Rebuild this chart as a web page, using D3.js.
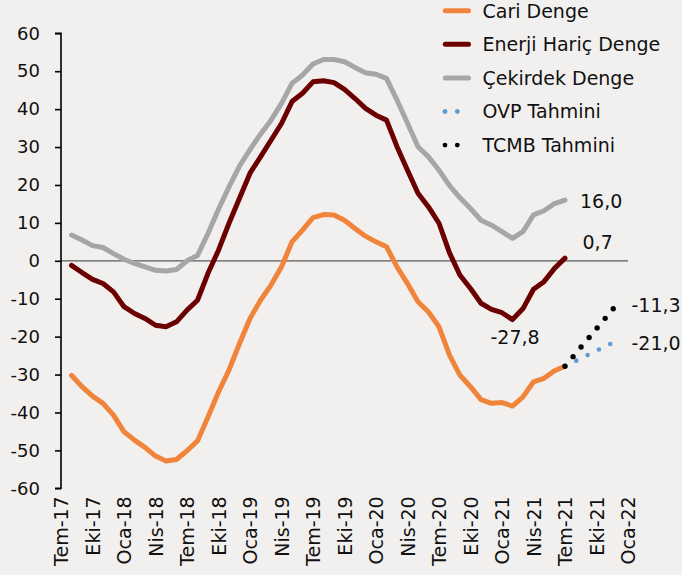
<!DOCTYPE html>
<html>
<head>
<meta charset="utf-8">
<script src="https://cdn.jsdelivr.net/npm/d3@7"></script>
<style>
  html, body { margin: 0; padding: 0; background: #f2f0ee; }
  svg { display: block; }
</style>
</head>
<body>
<svg id="chart" width="682" height="575"></svg>
<script>
// ---- Data ----
// month index 0 = Tem-17 (July 2017); series start at Ağu-17 (index 1)
const tickLabels = ["Tem-17","Eki-17","Oca-18","Nis-18","Tem-18","Eki-18","Oca-19","Nis-19","Tem-19","Eki-19","Oca-20","Nis-20","Tem-20","Eki-20","Oca-21","Nis-21","Tem-21","Eki-21","Oca-22"];
const yTicks = [60,50,40,30,20,10,0,-10,-20,-30,-40,-50,-60];
const firstMonth = 1;
const cariDenge = [-30.2,-33.2,-35.7,-37.6,-40.7,-45.1,-47.3,-49.2,-51.5,-52.8,-52.4,-50.1,-47.5,-41.2,-34.6,-28.8,-21.8,-15.2,-10.4,-6.4,-1.6,5.0,8.1,11.4,12.2,12.1,10.7,8.5,6.5,5.0,3.7,-1.6,-6.0,-10.8,-13.5,-17.4,-24.9,-30.2,-33.2,-36.6,-37.6,-37.4,-38.3,-35.9,-31.9,-31.0,-29.0,-27.8];
const enerjiHaric = [-1.2,-3.1,-4.9,-6.0,-8.2,-12.1,-13.9,-15.2,-17.0,-17.4,-16.1,-13.0,-10.4,-3.3,2.8,9.9,16.5,23.1,27.4,31.8,36.2,42.0,44.2,47.2,47.5,47.0,45.2,42.8,40.2,38.4,37.1,30.1,23.9,17.8,14.2,9.9,2.1,-3.8,-7.3,-11.2,-12.8,-13.7,-15.5,-12.6,-7.5,-5.5,-2.0,0.7];
const cekirdek = [6.8,5.5,4.0,3.5,1.9,0.4,-0.7,-1.6,-2.5,-2.7,-2.3,0.0,1.4,7.2,13.6,19.5,25.0,29.3,33.4,37.1,41.5,46.8,49.0,51.9,53.1,53.1,52.5,51.0,49.6,49.2,48.1,42.4,36.3,30.1,27.4,23.9,19.8,16.6,13.8,10.7,9.4,7.7,5.9,7.7,12.1,13.2,15.1,16.0];
const forecastMonths = [48, 53];
const ovpTahmini = [-27.8, -21.0];
const tcmbTahmini = [-27.8, -11.3];
const legendNames = ["Cari Denge","Enerji Hariç Denge","Çekirdek Denge","OVP Tahmini","TCMB Tahmini"];
const endLabels = [
  {text:"16,0", series:"cekirdek"},
  {text:"0,7", series:"enerji"},
  {text:"-27,8", series:"cari"},
  {text:"-11,3", series:"tcmb"},
  {text:"-21,0", series:"ovp"}
];

// ---- Styles ----
const colors = {cari:"#f0843a", enerji:"#6b0000", cekirdek:"#a6a6a6", ovp:"#5b9bd5", tcmb:"#000000"};
const font = "DejaVu Sans";

const svg = d3.select("#chart");
const x = d3.scaleLinear().domain([0, 54]).range([61, 628]);
const y = d3.scaleLinear().domain([-60, 60]).range([488.3, 33.3]);

// zero line
svg.append("line")
  .attr("x1", x(0)).attr("x2", x(54))
  .attr("y1", y(0)).attr("y2", y(0))
  .attr("stroke", "#5a5a5a").attr("stroke-width", 1.3);

// y axis
const yAxis = d3.axisLeft(y).tickValues(yTicks).tickSize(6).tickPadding(15).tickFormat(d => d);
const gy = svg.append("g").attr("transform", `translate(${x(0)},0)`).call(yAxis);
gy.select(".domain").attr("stroke", "#000").attr("stroke-width", 1.6).attr("d", `M-6,${y(60)}H0V${y(-60)}H-6`);
gy.selectAll(".tick line").attr("stroke", "#000").attr("stroke-width", 1.6);
gy.selectAll(".tick text").attr("font-family", font).attr("font-size", 18).attr("fill", "#111");

// x axis labels
const xAxis = d3.axisBottom(x).tickValues(d3.range(0, 55, 3)).tickSize(0).tickPadding(0)
  .tickFormat((d, i) => tickLabels[i]);
const gx = svg.append("g").attr("transform", `translate(0,${y(-60)})`).call(xAxis);
gx.select(".domain").remove();
gx.selectAll(".tick text")
  .attr("font-family", font).attr("font-size", 19).attr("fill", "#111")
  .attr("text-anchor", "end")
  .attr("transform", "translate(0,8) rotate(-90)")
  .attr("x", 0).attr("y", 0).attr("dy", "0.36em");

// lines
const line = d3.line().x(d => x(d[0])).y(d => y(d[1]));
function seriesPts(arr) { return arr.map((v, i) => [firstMonth + i, v]); }
[["cari", cariDenge], ["enerji", enerjiHaric], ["cekirdek", cekirdek]].forEach(([k, arr]) => {
  svg.append("path").datum(seriesPts(arr))
    .attr("d", line).attr("fill", "none")
    .attr("stroke", colors[k]).attr("stroke-width", 5)
    .attr("stroke-linejoin", "round").attr("stroke-linecap", "round");
});
svg.append("path").datum(forecastMonths.map((m, i) => [m, ovpTahmini[i]]))
  .attr("d", line).attr("fill", "none").attr("stroke", colors.ovp)
  .attr("stroke-width", 4.6).attr("stroke-linecap", "round").attr("stroke-dasharray", "0 12.6");
svg.append("path").datum(forecastMonths.map((m, i) => [m, tcmbTahmini[i]]))
  .attr("d", line).attr("fill", "none").attr("stroke", colors.tcmb)
  .attr("stroke-width", 5.4).attr("stroke-linecap", "round").attr("stroke-dasharray", "0 12.5");

// end labels
const labelPos = {
  cekirdek: {x: 580, y: 207.5},
  enerji: {x: 582.5, y: 249},
  cari: {x: 490.5, y: 344},
  tcmb: {x: 631.5, y: 311.5},
  ovp: {x: 631.5, y: 349.5}
};
endLabels.forEach(l => {
  svg.append("text").attr("x", labelPos[l.series].x).attr("y", labelPos[l.series].y)
    .attr("font-family", font).attr("font-size", 19).attr("fill", "#111").text(l.text);
});

// legend
const legendKeys = ["cari", "enerji", "cekirdek", "ovp", "tcmb"];
const lg = svg.append("g");
legendKeys.forEach((k, i) => {
  const cy = 10.7 + i * 33.6;
  if (i < 3) {
    lg.append("line").attr("x1", 445.3).attr("x2", 468.5).attr("y1", cy).attr("y2", cy)
      .attr("stroke", colors[k]).attr("stroke-width", 5).attr("stroke-linecap", "round");
  } else {
    [445, 457.3].forEach(cx => lg.append("circle").attr("cx", cx).attr("cy", cy).attr("r", 2.4).attr("fill", colors[k]));
  }
  lg.append("text").attr("x", 482.5).attr("y", cy).attr("dy", "0.36em")
    .attr("font-family", font).attr("font-size", 19).attr("fill", "#111").text(legendNames[i]);
});
</script>
</body>
</html>
